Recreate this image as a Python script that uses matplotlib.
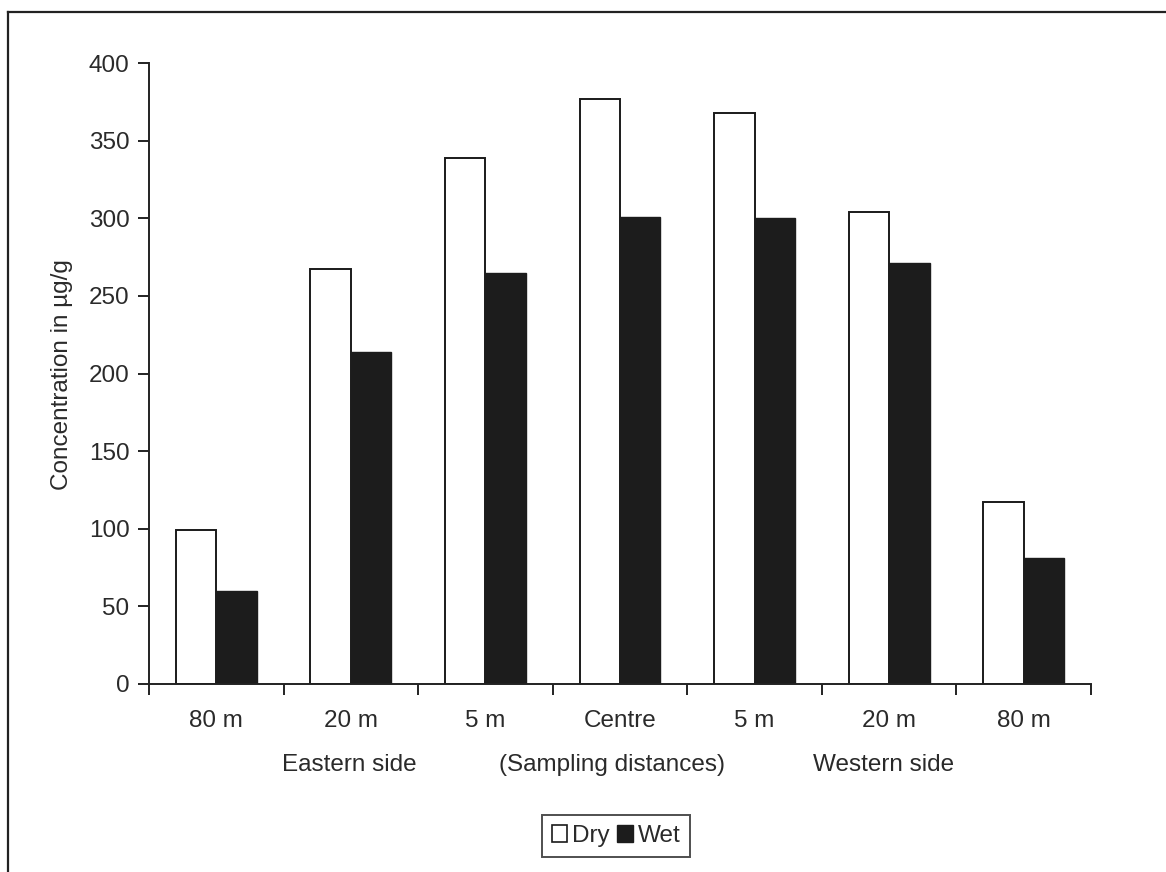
import matplotlib
matplotlib.use("Agg")
import matplotlib.pyplot as plt
import numpy as np
from matplotlib.patches import Patch
from matplotlib.lines import Line2D

plt.rcParams['font.family'] = ['Liberation Sans', 'DejaVu Sans']

categories = ["80 m", "20 m", "5 m", "Centre", "5 m", "20 m", "80 m"]
dry = [99, 267, 339, 377, 368, 304, 117]
wet = [60, 214, 265, 301, 300, 271, 81]
series_names = ["Dry", "Wet"]
y_ticks = [0, 50, 100, 150, 200, 250, 300, 350, 400]
group_labels = ["Eastern side", "(Sampling distances)", "Western side"]
y_label = "Concentration in µg/g"

TXT = "#2a2a2a"
FS = 17.5

fig = plt.figure(figsize=(11.66, 8.72), dpi=100)
fig.patch.set_facecolor("white")

# frame lines (left and top, as in the scan)
fig.add_artist(Line2D([8/1166, 8/1166], [0, 1 - 12/872], transform=fig.transFigure,
                      color="#222222", lw=1.6))
fig.add_artist(Line2D([8/1166, 1], [1 - 12/872, 1 - 12/872], transform=fig.transFigure,
                      color="#222222", lw=1.6))

ax = fig.add_axes([149/1166, 1 - 684/872, (1091 - 149)/1166, (684 - 63)/872])
x = np.arange(len(categories))
w = 0.30
ax.bar(x - w/2, dry, width=w, color="white", edgecolor="#1a1a1a", linewidth=1.4)
ax.bar(x + w/2, wet, width=w, color="#1c1c1c", edgecolor="#1c1c1c", linewidth=1.0)

ax.set_xlim(-0.5, len(categories) - 0.5)
ax.set_ylim(0, 400)
ax.set_yticks(y_ticks)
ax.set_yticklabels([str(t) for t in y_ticks], fontsize=FS, color=TXT)
ax.tick_params(axis="y", direction="out", length=8, width=1.4, pad=6, color="#222222")

ax.set_xticks(np.arange(-0.5, len(categories), 1.0))
ax.set_xticklabels([])
ax.tick_params(axis="x", which="major", direction="out", length=8, width=1.4, color="#222222")
ax.set_xticks(x, minor=True)
ax.set_xticklabels(categories, minor=True, fontsize=FS, color=TXT)
ax.tick_params(axis="x", which="minor", length=0, pad=19)

for s in ["top", "right"]:
    ax.spines[s].set_visible(False)
for s in ["left", "bottom"]:
    ax.spines[s].set_linewidth(1.4)
    ax.spines[s].set_color("#222222")

# group labels
for lab, xp in zip(group_labels, [349, 612, 884]):
    fig.text(xp/1166, 1 - 765/872, lab, ha="center", va="center", fontsize=FS, color=TXT)

fig.text(62/1166, 1 - 375/872, y_label, rotation=90, ha="center", va="center",
         fontsize=FS, color=TXT)

handles = [Patch(facecolor="white", edgecolor="#1a1a1a", linewidth=1.2),
           Patch(facecolor="#1c1c1c", edgecolor="#1c1c1c")]
leg = fig.legend(handles, series_names, loc="center", bbox_to_anchor=(616/1166, 1 - 836/872),
                 ncol=2, fontsize=FS, frameon=True, fancybox=False, handlelength=0.65,
                 handleheight=0.65, handletextpad=0.2, columnspacing=0.3, borderpad=0.4,
                 labelcolor=TXT)
leg.get_frame().set_edgecolor("#222222")
leg.get_frame().set_linewidth(1.4)

fig.savefig("out.png", dpi=100, facecolor="white")
